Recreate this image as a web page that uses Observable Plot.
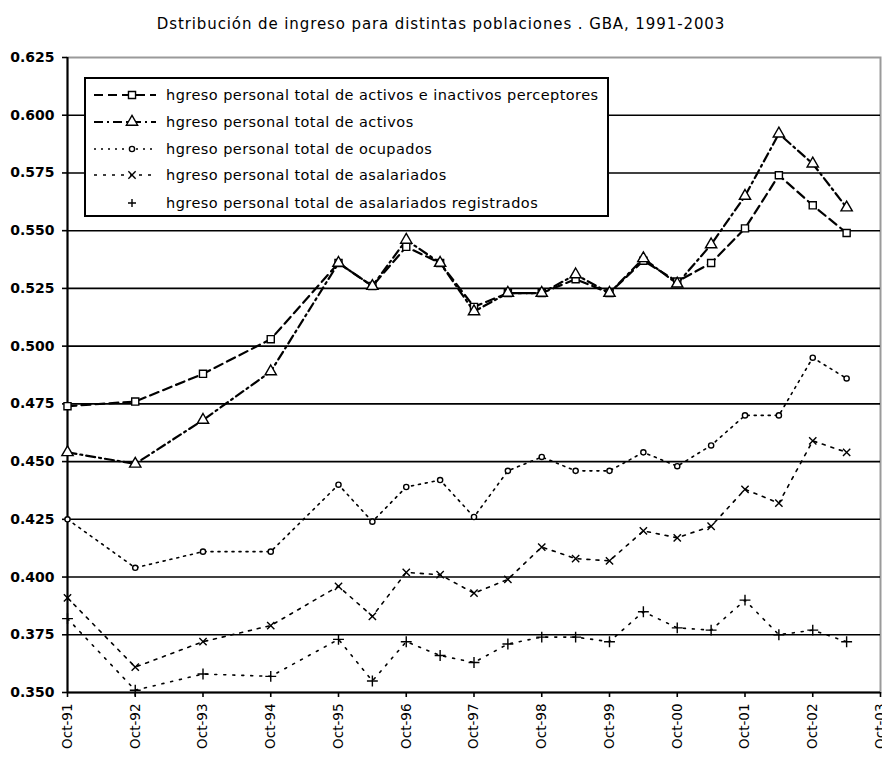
<!DOCTYPE html>
<html><head><meta charset="utf-8">
<script src="https://cdn.jsdelivr.net/npm/d3@7"></script>
<script src="https://cdn.jsdelivr.net/npm/@observablehq/plot@0.6"></script>
<style>
body{margin:0;background:#fff;font-family:"DejaVu Sans",sans-serif;color:#000;}
#wrap{position:relative;width:882px;height:758px;overflow:hidden;}
#title{position:absolute;top:15px;left:0;width:882px;text-align:center;font-size:15px;letter-spacing:0.9px;}
#chart{position:absolute;top:40px;left:0;}
#legend{position:absolute;left:84px;top:77px;width:521px;height:136px;border:2px solid #000;background:#fff;}
.row{position:absolute;left:6px;height:20px;display:flex;align-items:center;font-size:14.5px;letter-spacing:0.45px;white-space:nowrap;}
.row svg{margin-right:8px;}
</style></head><body>
<div id="wrap">
  <div id="title">Dstribución de ingreso para distintas poblaciones . GBA, 1991-2003</div>
  <div id="chart"></div>
  <div id="legend"></div>
</div>
<script>
// Survey waves (EPH, Gran Buenos Aires)
const waves = ["Oct-91","Oct-92","Oct-93","Oct-94","Oct-95","May-96","Oct-96","May-97","Oct-97","May-98","Oct-98","May-99","Oct-99","May-00","Oct-00","May-01","Oct-01","May-02","Oct-02","May-03"];

const seriesNames = [
  "hgreso personal total de activos e inactivos perceptores",
  "hgreso personal total de activos",
  "hgreso personal total de ocupados",
  "hgreso personal total de asalariados",
  "hgreso personal total de asalariados registrados"
];

const activosInactivos = [0.474,0.476,0.488,0.503,0.536,0.526,0.543,0.536,0.517,0.523,0.523,0.529,0.523,0.537,0.528,0.536,0.551,0.574,0.561,0.549];
const activos          = [0.454,0.449,0.468,0.489,0.536,0.526,0.546,0.536,0.515,0.523,0.523,0.531,0.523,0.538,0.527,0.544,0.565,0.592,0.579,0.560];
const ocupados         = [0.425,0.404,0.411,0.411,0.440,0.424,0.439,0.442,0.426,0.446,0.452,0.446,0.446,0.454,0.448,0.457,0.470,0.470,0.495,0.486];
const asalariados      = [0.391,0.361,0.372,0.379,0.396,0.383,0.402,0.401,0.393,0.399,0.413,0.408,0.407,0.420,0.417,0.422,0.438,0.432,0.459,0.454];
const registrados      = [0.382,0.351,0.358,0.357,0.373,0.355,0.372,0.366,0.363,0.371,0.374,0.374,0.372,0.385,0.378,0.377,0.390,0.375,0.377,0.372];

const xTickLabels = ["Oct-91","Oct-92","Oct-93","Oct-94","Oct-95","Oct-96","Oct-97","Oct-98","Oct-99","Oct-00","Oct-01","Oct-02","Oct-03"];
const yTicks = [0.350,0.375,0.400,0.425,0.450,0.475,0.500,0.525,0.550,0.575,0.600,0.625];

// styles per series
const styles = [
  {symbol:"square",   r:4,   dash:"9,5",      width:2.2},
  {symbol:"triangle", r:4.2, dash:"9,4,2,4",  width:2.2},
  {symbol:"circle",   r:2.6, dash:"2,5",      width:1.6},
  {symbol:"times",    r:3.4, dash:"3,6",      width:1.6},
  {symbol:"plus",     r:3.6, dash:"2,7",      width:1.6}
];

// convert wave label to position in years (Oct-YY -> YY, May-YY -> YY-0.5)
function waveToYear(lbl){
  const [m, yy] = lbl.split("-");
  const yr = (+yy < 50 ? 2000 : 1900) + (+yy);
  return m === "Oct" ? yr : yr - 0.5;
}
const labelToYear = lbl => { const yy = +lbl.split("-")[1]; return (yy < 50 ? 2000 : 1900) + yy; };

const values = [activosInactivos, activos, ocupados, asalariados, registrados];
const data = [];
values.forEach((arr, s) => arr.forEach((v, i) => data.push({series: s, x: waveToYear(waves[i]), y: v})));

const xTicks = xTickLabels.map(labelToYear);
const fmtX = d => xTickLabels[xTicks.indexOf(d)];

const marks = [
  Plot.frame({stroke:"#9a9a9a", strokeWidth:2}),
  Plot.ruleY(yTicks.slice(1, -1), {stroke:"#000", strokeWidth:1.6}),
  Plot.ruleY([yTicks[0]], {stroke:"#000", strokeWidth:2}),
  Plot.ruleX([xTicks[0]], {stroke:"#000", strokeWidth:2}),
  Plot.axisY({ticks: yTicks, tickFormat: d3.format(".3f"), tickSize: 5, tickPadding: 8, fontSize: 14, fontWeight: "bold", label: null, strokeWidth: 1.6}),
  Plot.axisX({ticks: xTicks, tickFormat: fmtX, tickRotate: -90, tickSize: 5, tickPadding: 6, fontSize: 13.5, label: null, strokeWidth: 1.6})
];
styles.forEach((st, s) => {
  const d = data.filter(p => p.series === s);
  marks.push(Plot.line(d, {x:"x", y:"y", stroke:"#000", strokeWidth: st.width, strokeDasharray: st.dash}));
});
styles.forEach((st, s) => {
  const d = data.filter(p => p.series === s);
  const hollow = ["square","triangle","circle"].includes(st.symbol);
  marks.push(Plot.dot(d, {x:"x", y:"y", symbol: st.symbol, r: st.r, fill: hollow ? "#fff" : "none", stroke:"#000", strokeWidth: 1.4}));
});

const plot = Plot.plot({
  width: 882, height: 718,
  marginTop: 17, marginBottom: 66, marginLeft: 67, marginRight: 2,
  style: {fontFamily: "DejaVu Sans", color: "#000", background: "#fff", overflow: "visible"},
  x: {domain: [xTicks[0], xTicks[xTicks.length - 1]], axis: null},
  y: {domain: [yTicks[0], yTicks[yTicks.length - 1]], axis: null},
  marks
});
document.getElementById("chart").appendChild(plot);

// Legend
const legend = d3.select("#legend");
const rowTops = [6, 33, 60, 86, 114];
seriesNames.forEach((name, s) => {
  const st = styles[s];
  const row = legend.append("div").attr("class","row").style("top", rowTops[s] + "px");
  const svg = row.append("svg").attr("width", 66).attr("height", 16);
  if (s < 4) {
    svg.append("line").attr("x1", 2).attr("x2", 64).attr("y1", 8).attr("y2", 8)
      .attr("stroke", "#000").attr("stroke-width", st.width).attr("stroke-dasharray", st.dash);
  }
  const sym = {square: d3.symbolSquare, triangle: d3.symbolTriangle, circle: d3.symbolCircle, times: d3.symbolTimes, plus: d3.symbolCross}[st.symbol];
  const size = Math.PI * st.r * st.r;
  const hollow = ["square","triangle","circle"].includes(st.symbol);
  const path = st.symbol === "plus" ? `M-4,0H4M0,-4V4` : d3.symbol(sym, size)();
  svg.append("path").attr("d", path).attr("transform", "translate(40,8)")
    .attr("fill", hollow ? "#fff" : "none").attr("stroke", "#000").attr("stroke-width", 1.4);
  row.append("span").text(name);
});
</script>
</body></html>
